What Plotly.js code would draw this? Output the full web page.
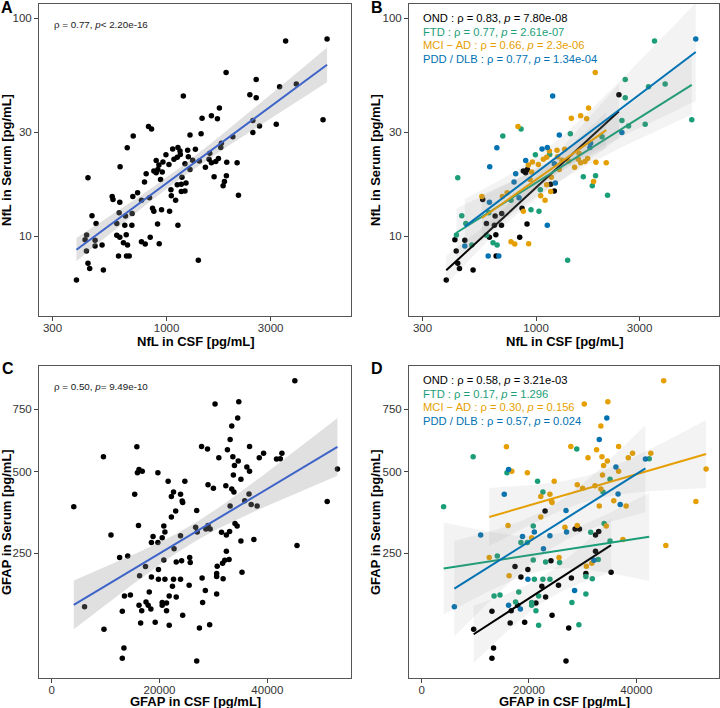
<!DOCTYPE html>
<html>
<head>
<meta charset="utf-8">
<script src="https://cdn.plot.ly/plotly-3.0.1.min.js"></script>
<style>html,body{margin:0;padding:0;background:#fff;}#chart{width:720px;height:708px;}</style>
</head>
<body>
<div id="chart"></div>
<script>
// ---------- DATA ----------
// groups: O = OND, F = FTD, M = MCI-AD, P = PDD/DLB
const groupCodes = ["O", "F", "M", "P"];
const groupNames = ["OND", "FTD", "MCI − AD", "PDD / DLB"];
const groupColors = ["#000000", "#1A9E77", "#E69F00", "#0072B2"];

const nflCSF = [5440,3513,1874,2575,3932,3296,2408,1193,2575,1746,
  1605,1454,1710,2486,5214,3182,2667,826,853,2486,
  1280,1439,703,2012,660,1783,1771,1127,1066,1152,
  1249,1355,993,1156,1577,1081,1119,962,896,1214,
  1025,922,1317,1565,1605,1680,1728,1887,2105,1506,
  612,874,912,806,955,436,792,938,1176,1227,
  1168,1119,1214,1168,1047,1651,1880,1841,1816,2135,
  563,568,610,700,736,767,835,1051,1100,862,
  948,1032,455,475,430,423,470,470,506,429,
  436,444,386,513,591,648,695,693,610,653,
  591,634,662,602,655,674,767,798,925,841,
  909,1127,1398,606,643,874,896,1258,1280,1413];
const nflSerum = [80.4,78.7,56.3,52.4,49.9,48.5,44.6,44.0,43.2,38.7,
  35.7,34.7,34.6,33.9,34.2,32.6,32.0,31.8,31.0,29.9,
  29.1,29.5,28.8,28.6,25.4,26.7,25.5,25.5,25.1,24.6,
  24.8,25.0,23.6,23.7,24.0,22.5,23.0,21.9,22.2,21.5,
  21.3,21.2,22.3,22.5,21.7,22.0,22.7,21.8,21.7,20.7,
  20.8,19.9,20.2,19.3,19.7,18.5,17.7,18.2,18.6,17.5,
  17.3,17.2,16.1,16.0,16.3,18.7,18.9,17.8,17.0,15.4,
  15.2,14.7,14.3,15.2,15.8,14.6,15.0,15.3,14.6,13.4,
  13.2,13.0,12.4,11.4,10.1,9.6,9.55,9.0,9.1,8.53,
  7.49,7.1,6.28,6.98,11.4,12.35,12.7,11.2,9.86,10.14,
  10.07,9.32,9.1,8.09,8.09,8.09,9.42,9.19,9.22,9.86,
  11.35,11.2,7.73,12.8,11.2,13.0,19.5,23.1,20.2,22.1];
const nflGroup = ["P","F","M","F","F","F","O","P","F","M",
  "M","M","M","F","F","F","F","M","F","P",
  "P","F","F","F","P","P","P","P","P","M",
  "M","M","F","F","M","M","M","M","P","P",
  "M","M","M","M","M","M","M","M","M","M",
  "P","O","O","P","M","F","P","M","M","P",
  "O","M","O","M","F","F","F","M","F","F",
  "M","O","P","M","M","F","P","M","M","O",
  "F","F","F","F","F","O","O","P","F","O",
  "O","O","O","O","O","O","O","O","O","O",
  "F","F","F","P","O","P","M","M","M","O",
  "O","P","F","F","O","M","O","M","M","M"];

const gfapCSF = [15800,9600,16200,15900,16800,19700,21600,24700,15400,22600,
  23900,22200,24200,24300,4100,23000,22200,16100,20800,21000,
  11000,18800,23900,20500,18500,19700,22700,12600,14100,20800,
  24100,23100,25600,17400,19800,16300,18500,19800,21000,22600,
  23900,25500,22400,13500,14600,18100,21800,23100,17500,20500,
  20500,21300,16200,17900,18400,16700,21300,13100,6100,24300,
  16500,19200,21800,9700,13400,13100,45100,30300,34700,34500,
  33400,33100,27800,28900,36700,32600,31000,33600,34600,38500,
  39300,42700,41700,42400,33900,36200,36700,33700,35100,29000,
  30000,32300,33400,33800,36600,53000,51100,45500,35800,37000,
  38100,33100,26900,26700,27000,29000,28600,29400,31500,32400,
  33000,34000,34400,35100,37500,32400,25700,30700,31700,32100,
  32900,30600,30600,31800,27900,35300,28500,30600,28000,27400,29300,26900];
const gfapSerum = [594,555,508,496,502,496,466,466,422,430,
  422,415,400,395,382,369,350,325,324,307,
  298,294,296,291,278,278,261,239,243,233,
  231,228,239,217,210,196,193,188,188,188,
  188,175,173,153,155,161,153,151,141,140,
  135,139,135,135,128,125,125,124,132,117,
  104,105,100,94,67,54,881,773,783,712,
  678,623,595,585,595,582,552,555,539,552,
  569,569,547,548,523,517,502,488,473,454,
  442,451,440,430,423,510,399,270,401,389,
  384,384,370,320,307,325,315,315,306,298,
  308,331,324,282,286,255,227,218,225,232,
  234,201,194,189,191,204,164,157,140,96,101,51];
const gfapGroup = ["M","F","P","F","M","M","F","M","P","F",
  "M","M","M","M","F","O","M","M","F","P",
  "P","P","P","M","F","F","P","M","F","F",
  "O","F","M","O","O","M","O","P","F","F",
  "F","O","O","F","F","F","F","O","F","F",
  "F","O","P","O","P","O","F","O","P","O",
  "O","O","F","O","O","O","M","M","M","P",
  "M","P","M","F","M","M","M","M","M","M",
  "M","M","P","F","M","P","M","M","F","M",
  "M","M","M","F","P","M","M","M","M","P",
  "M","M","P","M","P","M","O","O","F","O",
  "O","F","M","F","M","O","F","M","M","P",
  "F","O","F","F","O","O","P","F","F","O","F","O"];

const nflXTicks = [300, 1000, 3000];
const nflYTicks = [10, 30, 100];
const gfapXTicks = [0, 20000, 40000];
const gfapYTicks = [250, 500, 750];

const nflAllText = "ρ = 0.77, <i>p</i>< 2.20e-16";
const gfapAllText = "ρ = 0.50, <i>p</i>= 9.49e-10";
const nflRho = ["0.83", "0.77", "0.66", "0.77"];
const nflP = ["7.80e-08", "2.61e-07", "2.3e-06", "1.34e-04"];
const gfapRho = ["0.58", "0.17", "0.30", "0.57"];
const gfapP = ["3.21e-03", "1.296", "0.156", "0.024"];

// ---------- HELPERS ----------
const W = 720, H = 708;
const FONT = "Liberation Sans, Arial, Helvetica, sans-serif";
function tq(df){ return 1.96 + 2.4/df + 2.5/(df*df); }
function fit(xs, ys){
  const n = xs.length;
  const mx = xs.reduce((a,b)=>a+b,0)/n, my = ys.reduce((a,b)=>a+b,0)/n;
  let sxx=0, sxy=0;
  for (let i=0;i<n;i++){ sxx += (xs[i]-mx)**2; sxy += (xs[i]-mx)*(ys[i]-my); }
  const b = sxy/sxx, a = my - b*mx;
  let sse = 0;
  for (let i=0;i<n;i++) sse += (ys[i]-a-b*xs[i])**2;
  const s = Math.sqrt(sse/(n-2)), t = tq(n-2);
  const lo = Math.min(...xs), hi = Math.max(...xs);
  const gx=[], gy=[], gl=[], gh=[];
  for (let k=0;k<=80;k++){
    const x = lo + (hi-lo)*k/80, yh = a + b*x;
    const se = s*Math.sqrt(1/n + (x-mx)**2/sxx);
    gx.push(x); gy.push(yh); gl.push(yh - t*se); gh.push(yh + t*se);
  }
  return {gx, gy, gl, gh};
}
function subset(arr, grp, code){ return arr.filter((v,i)=>grp[i]===code); }

const traces = [];
function addFit(xs, ys, tx, ty, ix, iy, xa, ya, lineColor, bandColor){
  const f = fit(xs.map(tx), ys.map(ty));
  const bx = f.gx.concat(f.gx.slice().reverse()).map(ix);
  const by = f.gh.concat(f.gl.slice().reverse()).map(iy);
  traces.push({x: bx, y: by, xaxis: xa, yaxis: ya, type: "scatter", mode: "lines",
    fill: "toself", fillcolor: bandColor, line: {width: 0}, hoverinfo: "skip"});
  traces.push({x: f.gx.map(ix), y: f.gy.map(iy), xaxis: xa, yaxis: ya, type: "scatter",
    mode: "lines", line: {color: lineColor, width: 2}, hoverinfo: "skip"});
}
const lg = Math.log10, p10 = v => Math.pow(10, v), id = v => v, sq = Math.sqrt;
const MS = 5.5;

// Panel A
traces.push({x: nflCSF, y: nflSerum, xaxis: "x", yaxis: "y", type: "scatter", mode: "markers",
  marker: {color: "#000", size: MS}});
addFit(nflCSF, nflSerum, lg, lg, p10, p10, "x", "y", "#3E64C8", "rgba(153,153,153,0.3)");

// Panel B
groupCodes.forEach((c, gi) => {
  traces.push({x: subset(nflCSF, nflGroup, c), y: subset(nflSerum, nflGroup, c),
    xaxis: "x2", yaxis: "y2", type: "scatter", mode: "markers",
    marker: {color: groupColors[gi], size: MS}});
});
groupCodes.forEach((c, gi) => {
  addFit(subset(nflCSF, nflGroup, c), subset(nflSerum, nflGroup, c), lg, lg, p10, p10,
    "x2", "y2", groupColors[gi], "rgba(140,140,140,0.1)");
});

// Panel C (y on square-root scale)
traces.push({x: gfapCSF, y: gfapSerum.map(sq), xaxis: "x3", yaxis: "y3", type: "scatter",
  mode: "markers", marker: {color: "#000", size: MS}});
addFit(gfapCSF, gfapSerum, id, sq, id, id, "x3", "y3", "#3E64C8", "rgba(153,153,153,0.3)");

// Panel D
groupCodes.forEach((c, gi) => {
  traces.push({x: subset(gfapCSF, gfapGroup, c), y: subset(gfapSerum, gfapGroup, c).map(sq),
    xaxis: "x4", yaxis: "y4", type: "scatter", mode: "markers",
    marker: {color: groupColors[gi], size: MS}});
});
groupCodes.forEach((c, gi) => {
  addFit(subset(gfapCSF, gfapGroup, c), subset(gfapSerum, gfapGroup, c), id, sq, id, id,
    "x4", "y4", groupColors[gi], "rgba(140,140,140,0.1)");
});

// ---------- LAYOUT ----------
const axBase = {showline: true, mirror: true, linecolor: "#555", linewidth: 1,
  ticks: "outside", ticklen: 4, tickcolor: "#444", tickwidth: 1,
  tickfont: {family: FONT, size: 11.5, color: "#333"},
  showgrid: false, zeroline: false, fixedrange: true};
const xBase = Object.assign({}, axBase, {ticklabelstandoff: -3});
const colL = [39/W, 350.7/W], colR = [409/W, 719.3/W];
const rowT = [1-316/H, 1-4/H], rowB = [1-677.7/H, 1-365.7/H];
const nflXR = [2.415, 3.844], nflYR = [0.6325, 2.0657];
const gXR = [-2350, 55460], gYR = [5.79, 30.89];

const layout = {
  width: W, height: H, margin: {l:0, r:0, t:0, b:0},
  paper_bgcolor: "#fff", plot_bgcolor: "#fff", showlegend: false, hovermode: false,
  font: {family: FONT},
  xaxis:  Object.assign({}, xBase, {domain: colL, anchor: "y",  type: "log", range: nflXR, tickvals: nflXTicks, ticktext: nflXTicks.map(String)}),
  yaxis:  Object.assign({}, axBase, {domain: rowT, anchor: "x",  type: "log", range: nflYR, tickvals: nflYTicks, ticktext: nflYTicks.map(String)}),
  xaxis2: Object.assign({}, xBase, {domain: colR, anchor: "y2", type: "log", range: nflXR, tickvals: nflXTicks, ticktext: nflXTicks.map(String)}),
  yaxis2: Object.assign({}, axBase, {domain: rowT, anchor: "x2", type: "log", range: nflYR, tickvals: nflYTicks, ticktext: nflYTicks.map(String)}),
  xaxis3: Object.assign({}, xBase, {domain: colL, anchor: "y3", range: gXR, tickvals: gfapXTicks, ticktext: gfapXTicks.map(String)}),
  yaxis3: Object.assign({}, axBase, {domain: rowB, anchor: "x3", range: gYR, tickvals: gfapYTicks.map(sq), ticktext: gfapYTicks.map(String)}),
  xaxis4: Object.assign({}, xBase, {domain: colR, anchor: "y4", range: gXR, tickvals: gfapXTicks, ticktext: gfapXTicks.map(String)}),
  yaxis4: Object.assign({}, axBase, {domain: rowB, anchor: "x4", range: gYR, tickvals: gfapYTicks.map(sq), ticktext: gfapYTicks.map(String)}),
  annotations: []
};
function ann(text, px, py, o){
  layout.annotations.push(Object.assign({text, x: px/W, y: 1-py/H, xref: "paper", yref: "paper",
    showarrow: false, xanchor: "left", yanchor: "middle",
    font: {family: FONT, size: 10, color: "#1a1a1a"}}, o || {}));
}
// panel letters
[["A",7,7],["B",377,7],["C",8,368],["D",377,368]].forEach(a =>
  ann("<b>"+a[0]+"</b>", a[1], a[2], {xanchor: "center", font: {family: FONT, size: 16, color: "#000"}}));
// axis titles
const tf = {family: FONT, size: 13, color: "#000"};
ann("<b>NfL in CSF [pg/mL]</b>", 195, 341, {xanchor: "center", font: tf});
ann("<b>NfL in CSF [pg/mL]</b>", 564, 341, {xanchor: "center", font: tf});
ann("<b>GFAP in CSF [pg/mL]</b>", 195, 701.5, {xanchor: "center", font: tf});
ann("<b>GFAP in CSF [pg/mL]</b>", 564, 701.5, {xanchor: "center", font: tf});
ann("<b>NfL in Serum [pg/mL]</b>", 6, 160, {xanchor: "center", textangle: -90, font: tf});
ann("<b>NfL in Serum [pg/mL]</b>", 375, 160, {xanchor: "center", textangle: -90, font: tf});
ann("<b>GFAP in Serum [pg/mL]</b>", 6, 522, {xanchor: "center", textangle: -90, font: tf});
ann("<b>GFAP in Serum [pg/mL]</b>", 375, 522, {xanchor: "center", textangle: -90, font: tf});
// stats
ann(nflAllText, 51.5, 25, {font: {family: FONT, size: 9.8, color: "#1a1a1a"}});
ann(gfapAllText, 51.5, 386, {font: {family: FONT, size: 9.8, color: "#1a1a1a"}});
const rowsB = [17.5, 31.7, 45.2, 59.2], rowsD = [380, 393.5, 407, 420.7];
groupNames.forEach((g, i) => {
  ann(g + " : ρ = " + nflRho[i] + ", <i>p</i> = " + nflP[i], 421, rowsB[i],
    {font: {family: FONT, size: 11.2, color: groupColors[i]}});
  ann(g + " : ρ = " + gfapRho[i] + ", <i>p</i> = " + gfapP[i], 421, rowsD[i],
    {font: {family: FONT, size: 11.2, color: groupColors[i]}});
});

Plotly.newPlot("chart", traces, layout, {displayModeBar: false, staticPlot: true});
</script>
</body>
</html>
